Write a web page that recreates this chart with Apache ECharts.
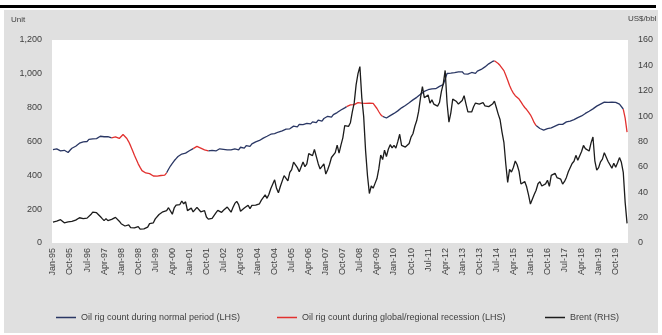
<!DOCTYPE html>
<html>
<head>
<meta charset="utf-8">
<title>Oil rig count and Brent</title>
<script src="https://cdn.jsdelivr.net/npm/echarts@6/dist/echarts.min.js"></script>
<style>
  html, body { margin: 0; padding: 0; background: #fff; }
  #chart { width: 662px; height: 335px; }
</style>
</head>
<body>
<div id="chart"></div>
<script>
// Monthly series, Jan-1995 to Apr-2020
const startYear = 1995;
const monthNames = ['Jan', 'Feb', 'Mar', 'Apr', 'May', 'Jun', 'Jul', 'Aug', 'Sep', 'Oct', 'Nov', 'Dec'];

// Oil rig count (units, LHS)
const rigCount = [
  552, 548, 556, 550, 545, 553, 548, 538, 535, 548, 560, 566,
  572, 581, 590, 584, 598, 606, 600, 613, 607, 616, 623, 617,
  626, 631, 621, 628, 636, 629, 625, 622, 631, 627, 620, 618,
  626, 641, 634, 618, 598, 574, 547, 519, 494, 468, 447, 428,
  418, 414, 404, 410, 399, 396, 402, 395, 405, 399, 410, 401,
  415, 436, 455, 471, 486, 499, 511, 519, 526, 521, 531, 540,
  545, 553, 558, 566, 571, 568, 561, 556, 551, 547, 544, 551,
  548, 553, 544, 551, 557, 547, 554, 544, 550, 559, 551, 547,
  556, 561, 551, 566, 571, 561, 576, 581, 571, 586, 591, 598,
  594, 606, 613, 620, 626, 631, 639, 643, 634, 646, 651, 656,
  659, 663, 669, 673, 681, 675, 686, 691, 696, 687, 701, 706,
  700, 697, 707, 713, 704, 716, 721, 711, 726, 731, 721, 736,
  741, 749, 753, 744, 759, 766, 771, 779, 786, 793, 799, 806,
  811, 816, 823, 818, 826, 830, 833, 827, 832, 825, 831, 826,
  828, 825, 814, 795, 776, 758, 748, 742, 739, 746, 753, 759,
  766, 773, 781, 790, 799, 806, 813, 821, 829, 836, 846, 853,
  861, 871, 880, 889, 896, 901, 906, 902, 911, 916, 912, 919,
  926, 931, 936, 940, 1002, 1011, 1004, 1015, 1007, 1018, 1011, 1021,
  1012, 1000, 992, 998, 1004, 1008, 1013, 1003, 1016, 1021, 1026, 1031,
  1041, 1050, 1059, 1066, 1073, 1077, 1071, 1061, 1049, 1038, 1019, 991,
  962, 931, 906, 886, 871, 861, 851, 834, 816, 801, 789, 774,
  758, 736, 711, 694, 684, 677, 671, 667, 670, 676, 671, 681,
  686, 691, 696, 701, 706, 701, 711, 716, 711, 721, 726, 729,
  733, 741, 746, 751, 759, 766, 771, 779, 786, 793, 801, 809,
  816, 821, 829, 833, 836, 831, 837, 832, 829, 831, 826, 821,
  815, 792, 738, 655
];

// Brent crude (US$/bbl, RHS)
const brentPrice = [
  16.5, 17.0, 17.2, 18.6, 18.4, 17.3, 15.9, 16.1, 16.6, 16.3, 17.0, 17.9,
  18.0, 18.6, 19.9, 21.1, 19.2, 18.7, 19.6, 20.4, 22.4, 24.3, 23.0, 23.9,
  24.2, 20.9, 19.2, 17.6, 19.2, 17.6, 18.5, 18.6, 18.4, 20.2, 19.0, 17.2,
  15.2, 14.1, 13.4, 13.4, 14.3, 12.1, 12.0, 11.9, 13.4, 12.9, 11.0, 9.8,
  11.1, 10.3, 12.5, 15.3, 15.3, 15.9, 19.0, 20.2, 22.5, 22.0, 24.6, 25.6,
  25.5, 27.8, 27.5, 22.7, 27.6, 29.8, 28.6, 30.3, 33.1, 30.9, 32.5, 25.5,
  25.6, 27.5, 24.5, 25.7, 28.1, 27.6, 24.6, 25.7, 25.5, 20.5, 18.8, 18.7,
  19.4, 20.3, 23.7, 25.7, 25.4, 24.1, 25.8, 26.6, 28.3, 27.5, 24.3, 27.9,
  31.2, 32.8, 30.3, 25.0, 25.8, 27.6, 28.4, 29.8, 27.1, 29.6, 28.8, 29.8,
  31.2, 30.9, 33.8, 33.4, 37.9, 35.2, 38.4, 43.0, 43.4, 49.8, 43.1, 39.6,
  44.5, 45.5, 53.1, 51.9, 49.0, 55.6, 57.9, 63.8, 63.7, 59.4, 56.2, 57.6,
  63.9, 60.1, 62.3, 70.4, 70.0, 68.9, 73.7, 73.2, 62.5, 58.4, 58.9, 62.4,
  54.3, 57.8, 62.1, 67.4, 67.5, 71.3, 77.2, 70.8, 77.1, 82.9, 92.5, 91.5,
  91.9, 94.8, 103.3, 110.4, 124.6, 133.5, 139.0, 114.6, 99.6, 72.8, 53.2, 39.0,
  44.9, 43.2, 47.0, 50.8, 58.6, 69.3, 65.8, 73.1, 68.2, 73.9, 77.5, 75.0,
  77.0, 74.8, 79.9, 85.7, 77.0, 75.7, 75.6, 77.1, 78.4, 83.5, 86.1, 92.0,
  96.5, 103.7, 114.6, 123.3, 114.5, 113.9, 116.7, 110.2, 112.8, 109.5, 110.5, 107.9,
  110.7, 119.3, 125.5, 136.0, 110.3, 95.2, 102.6, 113.4, 113.0, 111.5, 109.5, 109.2,
  112.3, 116.1, 109.5, 103.3, 103.3, 103.3, 107.4, 110.3, 111.2, 109.5, 108.1, 110.7,
  108.1, 108.9, 107.5, 107.8, 109.5, 111.8, 106.8, 101.6, 97.1, 87.4, 79.4, 62.3,
  47.8, 58.1, 55.9, 59.5, 64.6, 61.7, 56.5, 46.5, 47.6, 48.4, 44.3, 38.0,
  30.7, 32.2, 38.2, 41.6, 46.7, 48.3, 44.9, 45.8, 46.6, 49.5, 44.7, 53.3,
  54.6, 54.9, 51.6, 52.3, 50.3, 46.4, 48.5, 51.7, 56.2, 57.5, 62.7, 64.4,
  69.1, 65.3, 66.0, 72.1, 76.9, 74.4, 74.3, 72.5, 78.9, 83.5, 64.8, 57.4,
  59.4, 64.0, 66.1, 71.2, 71.3, 64.2, 63.9, 59.0, 62.8, 59.7, 63.2, 67.3,
  63.6, 55.7, 32.0, 15.5
];

// Global/regional recession windows, as [first month, last month]
const recessionPeriods = [
  ['Aug-97', 'Jan-00'],
  ['Mar-01', 'Nov-01'],
  ['Dec-07', 'Jul-09'],
  ['Jun-14', 'Apr-16'],
  ['Feb-20', 'Apr-20']
];

// Axis tick values
const leftTicks = { min: 0, max: 1200, step: 200 };
const rightTicks = { min: 0, max: 160, step: 20 };

// Month categories, e.g. "Jan-95"
const categories = rigCount.map((_, i) => {
  const y = startYear + Math.floor(i / 12);
  return monthNames[i % 12] + '-' + String(y % 100).padStart(2, '0');
});

const ranges = recessionPeriods.map(([a, b]) => [categories.indexOf(a), categories.indexOf(b)]);
const inRecession = i => ranges.some(([s, e]) => i > s && i < e);
const onRecession = i => ranges.some(([s, e]) => i >= s && i <= e);

// Normal period keeps the window endpoints so both lines join up
const normalSeries = rigCount.map((v, i) => inRecession(i) ? null : v);
const recessionSeries = rigCount.map((v, i) => onRecession(i) ? v : null);

const FONT = 'Liberation Sans';
const TXT = '#404040';
const NAVY = '#2a3764';
const RED = '#e2312f';
const BLACK = '#1c1c1c';

const chart = echarts.init(document.getElementById('chart'), null, { renderer: 'canvas' });

const legendBase = {
  top: 308,
  icon: 'rect',
  itemWidth: 20,
  itemHeight: 1.5,
  itemGap: 0,
  textStyle: { fontFamily: FONT, fontSize: 9, color: TXT }
};

chart.setOption({
  animation: false,
  backgroundColor: '#ffffff',
  textStyle: { fontFamily: FONT },
  graphic: [
    { type: 'rect', silent: true, z: -10, shape: { x: 4, y: 10, width: 654, height: 323 }, style: { fill: '#e0e0e0' } },
    { type: 'rect', silent: true, z: 10, shape: { x: 0, y: 5, width: 656, height: 3 }, style: { fill: '#000' } },
    { type: 'text', silent: true, left: 11, top: 16, style: { text: 'Unit', font: '8px "Liberation Sans"', fill: TXT } },
    { type: 'text', silent: true, left: 628, top: 15, style: { text: 'US$/bbl', font: '8px "Liberation Sans"', fill: TXT } }
  ],
  grid: {
    left: 52, right: 34, top: 40, bottom: 92,
    show: true, backgroundColor: '#ffffff', borderWidth: 0,
    containLabel: false
  },
  legend: [
    Object.assign({}, legendBase, { left: 51, data: ['Oil rig count during normal period (LHS)'] }),
    Object.assign({}, legendBase, { left: 272, data: ['Oil rig count during global/regional recession (LHS)'] }),
    Object.assign({}, legendBase, { left: 540, data: ['Brent (RHS)'] })
  ],
  xAxis: {
    type: 'category',
    data: categories,
    boundaryGap: true,
    axisLine: { show: false },
    axisTick: { show: false },
    axisLabel: {
      interval: 8,
      rotate: 90,
      margin: 5,
      fontFamily: FONT,
      fontSize: 9,
      color: TXT
    },
    splitLine: { show: false }
  },
  yAxis: [
    {
      type: 'value',
      min: leftTicks.min, max: leftTicks.max, interval: leftTicks.step,
      axisLine: { show: false }, axisTick: { show: false }, splitLine: { show: false },
      axisLabel: {
        margin: 10, fontFamily: FONT, fontSize: 9, color: TXT,
        formatter: v => v.toLocaleString('en-US')
      }
    },
    {
      type: 'value',
      min: rightTicks.min, max: rightTicks.max, interval: rightTicks.step,
      axisLine: { show: false }, axisTick: { show: false }, splitLine: { show: false },
      axisLabel: { margin: 10, fontFamily: FONT, fontSize: 9, color: TXT }
    }
  ],
  series: [
    {
      name: 'Oil rig count during normal period (LHS)',
      type: 'line', yAxisIndex: 0, data: normalSeries,
      showSymbol: false, connectNulls: false,
      itemStyle: { color: NAVY },
      lineStyle: { color: NAVY, width: 1.3 }
    },
    {
      name: 'Oil rig count during global/regional recession (LHS)',
      type: 'line', yAxisIndex: 0, data: recessionSeries,
      showSymbol: false, connectNulls: false,
      itemStyle: { color: RED },
      lineStyle: { color: RED, width: 1.3 }
    },
    {
      name: 'Brent (RHS)',
      type: 'line', yAxisIndex: 1, data: brentPrice,
      showSymbol: false,
      itemStyle: { color: BLACK },
      lineStyle: { color: BLACK, width: 1.3 }
    }
  ]
});
</script>
</body>
</html>
